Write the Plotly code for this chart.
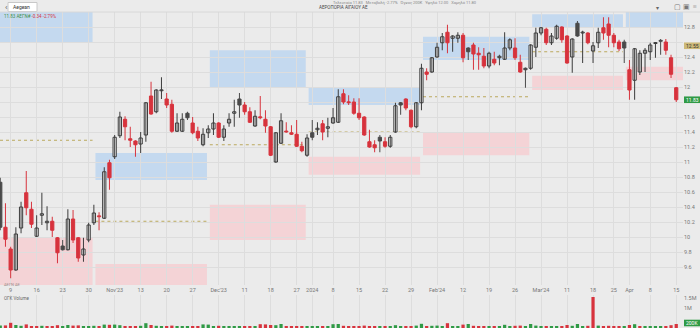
import plotly.graph_objects as go

# ---------------- data ----------------
opens = [10.73, 10.13, 9.84, 9.56, 10.12, 10.59, 10.37, 10.01, 10.29, 10.19,
         10.21, 9.99, 9.88, 9.83, 10.24, 9.99, 9.76, 9.96, 10.19, 10.28,
         10.25, 10.99, 11.07, 11.35, 11.57, 11.31, 11.28, 11.24, 11.36, 11.88,
         11.67, 11.95, 11.84, 11.77, 11.41, 11.41, 11.65, 11.52, 11.41, 11.23,
         11.39, 11.44, 11.52, 11.33, 11.52, 11.65, 11.84, 11.76, 11.67, 11.48,
         11.60, 11.57, 11.47, 11.00, 11.25, 11.41, 11.39, 11.37, 11.21, 11.09,
         11.39, 11.43, 11.51, 11.45, 11.52, 11.53, 11.91, 11.80, 11.80, 11.65,
         11.60, 11.27, 11.23, 11.33, 11.27, 11.21, 11.40, 11.79, 11.84, 11.69,
         11.47, 11.79, 12.20, 12.20, 12.40, 12.59, 12.73, 12.65, 12.65, 12.69,
         12.52, 12.56, 12.45, 12.41, 12.28, 12.37, 12.41, 12.37, 12.52, 12.52,
         12.33, 12.25, 12.25, 12.53, 12.72, 12.77, 12.59, 12.65, 12.80, 12.68,
         12.40, 12.85, 12.72, 12.72, 12.48, 12.59, 12.79, 12.84, 12.69, 12.60,
         12.60, 12.23, 12.09, 12.20, 12.45, 12.47, 12.58, 12.62, 12.60, 12.39,
         11.99]
highs = [10.79, 10.45, 9.87, 10.13, 10.47, 10.88, 10.47, 10.29, 10.59, 10.41,
         10.27, 10.00, 9.96, 10.37, 10.36, 10.00, 9.99, 10.19, 10.43, 10.33,
         10.93, 11.03, 11.36, 11.67, 11.61, 11.47, 11.29, 11.40, 11.80, 12.07,
         11.97, 12.13, 11.92, 11.83, 11.65, 11.65, 11.67, 11.60, 11.47, 11.45,
         11.49, 11.65, 11.53, 11.49, 11.65, 11.83, 11.92, 11.80, 11.73, 11.69,
         11.88, 11.69, 11.48, 11.40, 11.65, 11.53, 11.49, 11.56, 11.27, 11.37,
         11.56, 11.53, 11.56, 11.59, 11.72, 11.97, 11.97, 11.89, 11.85, 11.85,
         11.61, 11.43, 11.29, 11.36, 11.33, 11.36, 11.79, 11.80, 11.85, 11.70,
         11.80, 12.31, 12.25, 12.40, 12.59, 12.72, 12.83, 12.69, 12.73, 12.72,
         12.53, 12.59, 12.53, 12.52, 12.47, 12.47, 12.43, 12.73, 12.65, 12.65,
         12.43, 12.26, 12.57, 12.79, 12.80, 12.79, 12.72, 12.83, 12.81, 12.69,
         12.65, 12.88, 12.75, 12.73, 12.60, 12.79, 12.93, 12.93, 12.72, 12.63,
         12.63, 12.36, 12.52, 12.49, 12.52, 12.59, 12.60, 12.64, 12.64, 12.43,
         12.00]
lows = [10.09, 9.87, 9.45, 9.55, 10.05, 10.29, 10.12, 10.00, 10.16, 10.09,
        10.00, 9.65, 9.82, 9.82, 9.92, 9.67, 9.67, 9.93, 10.16, 10.09,
        10.24, 10.63, 11.04, 11.32, 11.29, 11.20, 11.07, 11.12, 11.27, 11.63,
        11.65, 11.84, 11.72, 11.39, 11.40, 11.40, 11.56, 11.37, 11.28, 11.21,
        11.32, 11.36, 11.32, 11.28, 11.47, 11.47, 11.59, 11.63, 11.52, 11.47,
        11.57, 11.39, 11.08, 10.99, 11.24, 11.39, 11.36, 11.20, 11.13, 11.07,
        11.29, 11.36, 11.29, 11.33, 11.51, 11.52, 11.77, 11.76, 11.63, 11.56,
        11.35, 11.19, 11.13, 11.13, 11.19, 11.19, 11.39, 11.63, 11.69, 11.45,
        11.45, 11.69, 12.09, 12.19, 12.39, 12.49, 12.45, 12.47, 12.59, 12.33,
        12.36, 12.23, 12.23, 12.25, 12.25, 12.29, 12.29, 12.36, 12.49, 12.36,
        12.19, 11.99, 12.23, 12.40, 12.69, 12.56, 12.56, 12.63, 12.59, 12.31,
        12.19, 12.67, 12.32, 12.57, 12.32, 12.52, 12.63, 12.53, 12.53, 12.48,
        12.32, 11.83, 11.83, 12.16, 12.20, 12.36, 12.39, 12.43, 12.43, 12.12,
        11.80]
closes = [10.13, 9.97, 9.56, 10.04, 10.40, 10.39, 10.17, 10.12, 10.31, 10.21,
          10.09, 9.79, 9.83, 10.24, 9.96, 9.72, 9.84, 10.16, 10.32, 10.27,
          10.87, 10.79, 11.33, 11.60, 11.47, 11.29, 11.23, 11.32, 11.79, 11.64,
          11.96, 11.96, 11.76, 11.41, 11.52, 11.57, 11.59, 11.39, 11.32, 11.37,
          11.44, 11.52, 11.33, 11.44, 11.57, 11.67, 11.76, 11.67, 11.53, 11.61,
          11.59, 11.48, 11.09, 11.39, 11.55, 11.40, 11.37, 11.21, 11.15, 11.32,
          11.33, 11.45, 11.40, 11.47, 11.59, 11.87, 11.80, 11.79, 11.65, 11.59,
          11.36, 11.20, 11.19, 11.28, 11.21, 11.33, 11.75, 11.76, 11.72, 11.47,
          11.79, 12.25, 12.17, 12.39, 12.53, 12.67, 12.59, 12.68, 12.69, 12.39,
          12.47, 12.44, 12.43, 12.28, 12.45, 12.32, 12.39, 12.52, 12.63, 12.39,
          12.20, 12.23, 12.56, 12.72, 12.79, 12.59, 12.68, 12.81, 12.63, 12.32,
          12.64, 12.68, 12.73, 12.59, 12.55, 12.73, 12.72, 12.69, 12.59, 12.51,
          12.52, 11.96, 12.51, 12.45, 12.49, 12.56, 12.59, 12.61, 12.49, 12.17,
          11.83]
volumes_k = [120, 130, 260, 150, 110, 180, 100, 90, 110, 80,
             90, 140, 80, 150, 120, 130, 90, 100, 110, 80,
             170, 160, 170, 140, 100, 90, 80, 110, 240, 150,
             110, 90, 80, 120, 80, 90, 70, 90, 80, 180,
             170, 100, 110, 80, 90, 80, 90, 70, 90, 80,
             190, 180, 150, 140, 200, 80, 70, 90, 80, 100,
             90, 80, 90, 70, 190, 200, 110, 80, 90, 80,
             120, 100, 80, 70, 80, 90, 140, 80, 90, 100,
             120, 210, 100, 110, 120, 100, 240, 90, 80, 170,
             200, 110, 90, 100, 90, 80, 70, 160, 100, 110,
             120, 100, 200, 120, 90, 100, 80, 90, 80, 150,
             110, 200, 90, 110, 1550, 120, 100, 110, 90, 80,
             90, 150, 190, 100, 80, 90, 70, 80, 100, 140,
             200]

tick_slots = [2, 7, 12, 17, 22, 27, 32, 37, 42, 47, 52, 57, 60, 64, 69, 74, 79,
              84, 89, 94, 99, 104, 109, 114, 118, 121, 125, 130]
tick_labels = ["9", "16", "23", "30", "Nov'23", "13", "20", "27", "Dec'23", "11",
               "18", "27", "2024", "8", "15", "22", "29", "Feb'24", "12", "19",
               "26", "Mar'24", "11", "18", "25", "Apr", "8", "15"]

# monthly zones
period_start = [0, 18, 40, 59, 81, 102, 120]
period_end = [17, 39, 58, 80, 101, 119, 130]
blue_top = [13.05, 11.12, 12.49, 11.99, 12.67, 12.97, 13.05]
blue_bot = [12.60, 10.76, 12.00, 11.76, 12.36, 12.79, 12.80]
pink_top = [10.00, 9.64, 10.43, 11.07, 11.39, 12.15, 12.27]
pink_bot = [9.30, 9.30, 9.96, 10.83, 11.09, 11.96, 12.09]
mid_line = [11.29, 10.21, 11.23, 11.40, 11.87, 12.47, None]
marker_level = 12.55

price_ticks = [round(9.6 + 0.2 * k, 1) for k in range(17)]

# ---------------- styling ----------------
BG = "#ebebeb"
GRID = "#dddddd"
RED = "#d7333d"
DARK = "#4a4a4a"
OUTLINE = "#3c3c3c"
HOLLOW = "#f6f6f6"
GREEN = "#2f9a45"
FONT = "Roboto"

N = len(opens)
slots = list(range(N))

kind = []
for i in range(N):
    if closes[i] > opens[i]:
        kind.append("up")
    elif i > 0 and closes[i] < closes[i - 1]:
        kind.append("down")
    else:
        kind.append("flat")

fig = go.Figure()

# boxes
for k in range(len(period_start)):
    x0 = -1 if k == 0 else period_start[k] + 0.3
    x1 = 135 if k == len(period_start) - 1 else period_end[k] + 0.75
    fig.add_shape(type="rect", xref="x", yref="y", x0=x0, x1=x1,
                  y0=blue_bot[k], y1=blue_top[k], fillcolor="#c4d9ef",
                  line_width=0, layer="below")
    fig.add_shape(type="rect", xref="x", yref="y", x0=x0, x1=x1,
                  y0=pink_bot[k], y1=pink_top[k], fillcolor="#f4d3d6",
                  line_width=0, layer="below")
    if mid_line[k] is not None:
        fig.add_shape(type="line", xref="x", yref="y", x0=max(x0, -0.05), x1=x1,
                      y0=mid_line[k], y1=mid_line[k],
                      line=dict(color="#bba95e", width=1, dash="dot"), layer="below")

# wicks
def wick_xy(sel):
    xs, ys = [], []
    for i in sel:
        xs += [slots[i], slots[i], None]
        ys += [lows[i], highs[i], None]
    return xs, ys

for sel_kind, col in (("down", RED), ("flat", DARK), ("up", OUTLINE)):
    sel = [i for i in range(N) if kind[i] == sel_kind]
    xs, ys = wick_xy(sel)
    fig.add_trace(go.Scatter(x=xs, y=ys, mode="lines", line=dict(color=col, width=1),
                             hoverinfo="skip", xaxis="x", yaxis="y"))

# bodies
fills = [HOLLOW if k == "up" else (RED if k == "down" else DARK) for k in kind]
lines_c = [OUTLINE if k == "up" else (RED if k == "down" else DARK) for k in kind]
fig.add_trace(go.Bar(
    x=slots,
    y=[max(abs(c - o), 0.012) for o, c in zip(opens, closes)],
    base=[min(o, c) for o, c in zip(opens, closes)],
    width=0.62,
    marker=dict(color=fills, line=dict(color=lines_c, width=1)),
    xaxis="x", yaxis="y", hoverinfo="skip"))

# volume
vcol = [GREEN if (i == 0 or closes[i] >= closes[i - 1]) else RED for i in range(N)]
fig.add_trace(go.Bar(x=slots, y=volumes_k, width=0.62, marker=dict(color=vcol, line_width=0),
                     xaxis="x2", yaxis="y2", hoverinfo="skip"))

PLOT_W = 683.0
def px(xp):
    return xp / PLOT_W
def py(yp):
    return 1 - yp / 328.0

ann = []
def text(x, y, s, size=5, color="#666", xanchor="left", **kw):
    ann.append(dict(x=px(x), y=py(y), xref="paper", yref="paper", text=s, showarrow=False,
                    xanchor=xanchor, yanchor="middle", font=dict(size=size, color=color, family=FONT), **kw))

# header
fig.add_shape(type="rect", xref="paper", yref="paper", x0=px(8), x1=px(37), y0=py(11.5), y1=py(2.5),
              fillcolor="white", line=dict(color="#c8c8c8", width=1))
text(2.5, 7, "‹", size=8, color="#555")
text(11, 7, "Aegean", size=5, color="#333")
text(343, 7, "ΑΕΡΟΠΟΡΙΑ ΑΙΓΑΙΟΥ ΑΕ", size=4.5, color="#444", xanchor="center")
text(405, 2.2, "Τελευταία 11.83   Μεταβολή -2.77%   Όγκος 200K   Υψηλό 12.00   Χαμηλό 11.80", size=4,
     color="#888", xanchor="center")
text(657, 7, "▾", size=6, color="#666", xanchor="center")
text(677, 7, "▢", size=7, color="#777", xanchor="center")
text(686, 7, "▣", size=7, color="#777", xanchor="center")
text(695, 7, "≡", size=7, color="#666", xanchor="center")
fig.add_shape(type="line", xref="paper", yref="paper", x0=0, x1=700 / PLOT_W, y0=py(12), y1=py(12),
              line=dict(color="#d8d8d8", width=1))

# legend line
chg = closes[-1] - closes[-2]
pct = chg / closes[-2] * 100
text(2, 16, f"<span style='color:#3d8f4a'>{closes[-1]:.2f} ΑΕΓΝ#</span> "
            f"<span style='color:{RED}'>{chg:+.2f} {pct:+.2f}%</span>", size=4.5)
text(2, 284, "ΑΕΓΝ ΑΕ", size=4, color="#a08a8a")
text(2, 298, "ΟΓΚ Volume", size=4.5, color="#666")

# right tags
y_of = lambda p: 12 + (13.0 - p) * 75
tag_levels = [marker_level, closes[-1]]

def tag(yp, s, bg, fg):
    fig.add_shape(type="rect", xref="paper", yref="paper", x0=px(684), x1=px(700),
                  y0=py(yp + 3.3), y1=py(yp - 3.3), fillcolor=bg, line_width=0)
    text(692, yp, s, size=5, color=fg, xanchor="center")

tag(y_of(marker_level), f"{marker_level:.2f}", "#cdb978", "#333")
tag(y_of(closes[-1]), f"{closes[-1]:.2f}", GREEN, "white")
tag(323, f"{volumes_k[-1]}K", GREEN, "white")

# tick labels hidden where a price tag covers them
tick_text = []
for v in price_ticks:
    hidden = any(abs(y_of(v) - y_of(t)) < 7 for t in tag_levels)
    tick_text.append("" if hidden else f"{v:g}")

fig.update_layout(
    width=700, height=328,
    margin=dict(l=0, r=17, t=0, b=0),
    paper_bgcolor=BG, plot_bgcolor=BG,
    showlegend=False, barmode="overlay",
    font=dict(family=FONT, size=6, color="#777"),
    annotations=ann,
    xaxis=dict(domain=[0, 1], range=[-0.05, 131.3], anchor="y",
               tickmode="array", tickvals=tick_slots, ticktext=tick_labels,
               showgrid=True, gridcolor=GRID, gridwidth=1, zeroline=False,
               ticks="", tickfont=dict(size=5.5, color="#777"), showline=False),
    yaxis=dict(domain=[1 - 285 / 328, 1 - 12 / 328], range=[9.36, 13.0], anchor="x",
               side="right", tickmode="array", tickvals=price_ticks,
               ticktext=tick_text,
               showgrid=True, gridcolor=GRID, zeroline=False, ticks="",
               tickfont=dict(size=5.5, color="#777")),
    xaxis2=dict(domain=[0, 1], matches="x", anchor="y2", tickmode="array",
                tickvals=tick_slots, showticklabels=False, showgrid=True,
                gridcolor=GRID, zeroline=False, ticks=""),
    yaxis2=dict(domain=[0, 1 - 295 / 328], range=[0, 1650], anchor="x2", side="right",
                tickmode="array", tickvals=[1000, 1500], ticktext=["1M", "1.5M"],
                showgrid=False, zeroline=False, ticks="",
                tickfont=dict(size=5.5, color="#777")),
)

fig.write_html("out.html")
